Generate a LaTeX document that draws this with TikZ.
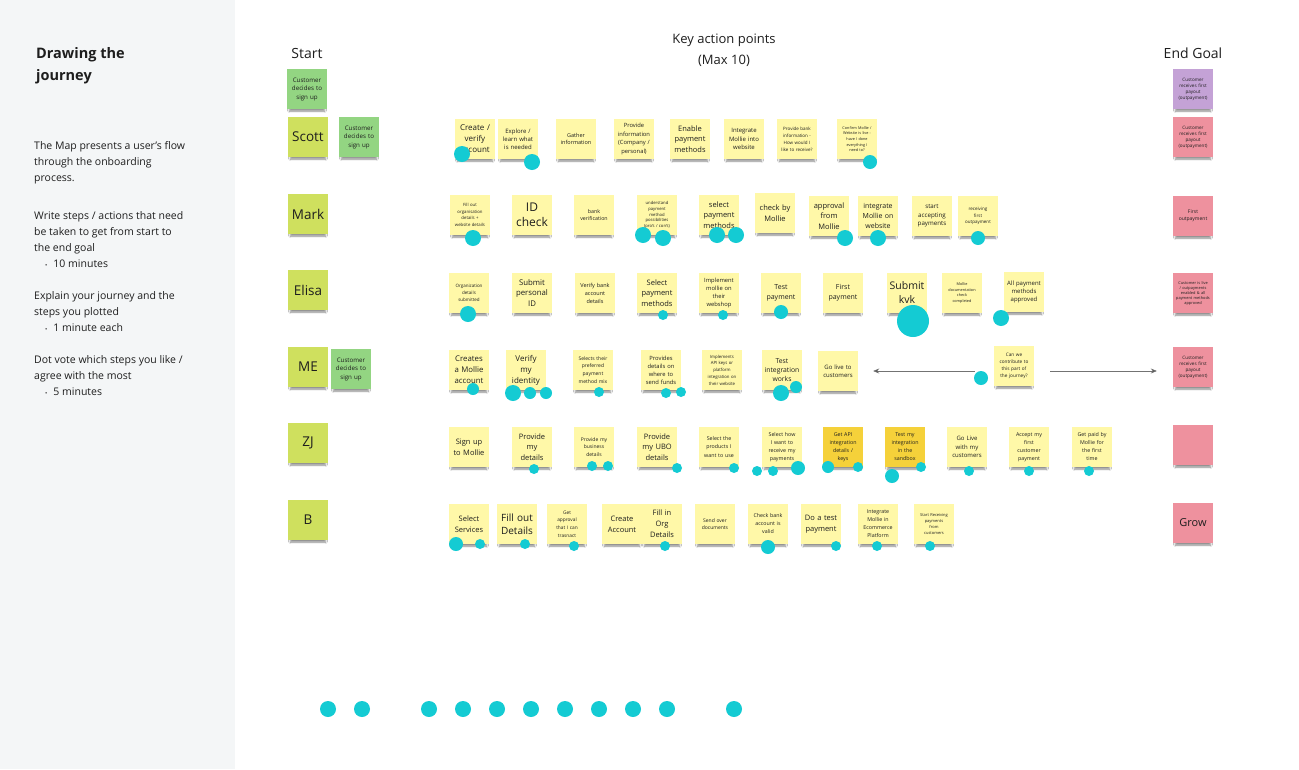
\documentclass[tikz,border=0pt]{standalone}
\usepackage{fontspec}
\setmainfont{Open Sans}
\usetikzlibrary{arrows.meta,shadows.blur}
\definecolor{panel}{HTML}{F4F6F7}
\definecolor{noteY}{HTML}{FFF8A8}
\definecolor{noteD}{HTML}{F5D13A}
\definecolor{noteN}{HTML}{CFE05E}
\definecolor{noteG}{HTML}{93D582}
\definecolor{noteP}{HTML}{EE919E}
\definecolor{noteV}{HTML}{C4A2D6}
\definecolor{dotc}{HTML}{14CBD3}
\definecolor{txt}{HTML}{1E1E1E}
\newcommand\fs[2]{\fontsize{#1}{#2}\selectfont}
\tikzset{
  note/.style={rectangle, minimum width=40pt, minimum height=40pt, inner sep=0.5pt,
    align=center, text width=39pt, fill=noteY, text=txt,
    blur shadow={shadow xshift=0pt, shadow yshift=-5pt, shadow blur radius=2pt,
      shadow opacity=45, shadow scale=0.88}},
  dark/.style={note, fill=noteD},
  namenote/.style={note, fill=noteN, font=\fs{13.5}{16}},
  greennote/.style={note, fill=noteG, font=\fs{6.2}{8.5}},
  pinknote/.style={note, fill=noteP, font=\fs{4.6}{6}},
  dot/.style={circle, fill=dotc, inner sep=0pt},
  header/.style={align=center, text=txt, font=\fs{14}{21}},
  para/.style={anchor=north west, inner sep=0pt, align=left, text=txt, font=\fs{10.5}{16}},
  arr/.style={draw=black!55, line width=0.7pt, -{Stealth[length=6pt,width=5pt,fill=black]}},
}
\newcommand\bul{\hspace*{11pt}{\fs{6}{6}\textbullet}\hspace{6pt}}
\begin{document}
\begin{tikzpicture}[x=1pt,y=-1pt]
\useasboundingbox (0,0) rectangle (1299,769);
\fill[white] (0,0) rectangle (1299,769);
\fill[panel] (0,0) rectangle (235,769);

% left panel text
\node[para, font=\fs{14.5}{22}\bfseries] (title) at (36,47) {Drawing the\\journey};
\node[para] (p1) at (34,141) {The Map presents a user’s flow\\through the onboarding\\process.};
\node[para] (p2) at (34,211) {Write steps / actions that need\\be taken to get from start to\\the end goal\\\bul 10 minutes};
\node[para] (p3) at (34,291) {Explain your journey and the\\steps you plotted\\\bul 1 minute each};
\node[para] (p4) at (34,355) {Dot vote which steps you like /\\agree with the most\\\bul 5 minutes};

% headers
\node[header] (hstart) at (307,53) {Start};
\node[header, font=\fs{13}{21}] (hkey) at (724,50) {Key action points\\(Max 10)};
\node[header] (hend) at (1193,53) {End Goal};

% start column
\node[greennote] (start0) at (307,89) {Customer\\decides to\\sign up};
\node[namenote] (scott) at (308,137) {Scott};
\node[namenote] (mark) at (308,214) {Mark};
\node[namenote] (elisa) at (308,290) {Elisa};
\node[namenote] (me) at (308,367) {ME};
\node[namenote] (zj) at (308,443) {ZJ};
\node[namenote] (b) at (308,520) {B};
\node[greennote] (cs1) at (359,137) {Customer\\decides to\\sign up};
\node[greennote] (cs2) at (351,369) {Customer\\decides to\\sign up};

% end goal column
\node[pinknote, fill=noteV] (eg0) at (1193,89) {Customer\\receives first\\payout\\(outpayment)};
\node[pinknote] (eg1) at (1193,137) {Customer\\receives first\\payout\\(outpayment)};
\node[pinknote, font=\fs{5}{6.5}] (eg2) at (1193,216) {First\\outpayment};
\node[pinknote, font=\fs{3.9}{5}] (eg3) at (1193,293) {Customer is live\\/ outpayments\\enabled \& all\\payment methods\\approved};
\node[pinknote] (eg4) at (1193,367) {Customer\\receives first\\payout\\(outpayment)};
\node[pinknote] (eg5) at (1193,445) {};
\node[pinknote, font=\fs{11}{13}] (eg6) at (1193,523) {Grow};

% Scott row
\node[note, font=\fs{8}{11}] (s1) at (475,139) {Create /\\verify\\account};
\node[note, font=\fs{6}{8.2}] (s2) at (518,139) {Explore /\\learn what\\is needed};
\node[note, font=\fs{5.5}{7.5}] (s3) at (576,139) {Gather\\information};
\node[note, font=\fs{5.8}{8.5}] (s4) at (634,139) {Provide\\information\\(Company /\\personal)};
\node[note, font=\fs{7.5}{10.5}] (s5) at (690,139) {Enable\\payment\\methods};
\node[note, font=\fs{6}{8.2}] (s6) at (744,139) {Integrate\\Mollie into\\website};
\node[note, font=\fs{4.5}{7}] (s7) at (797,139) {Provide bank\\information -\\How would I\\like to receive?};
\node[note, font=\fs{3.8}{5.6}] (s8) at (857,139) {Confirm Mollie /\\Website is live -\\have I done\\everything I\\need to?};

% Mark row
\node[note, font=\fs{4.3}{6.5}] (m1) at (470,215) {Fill out\\organisation\\details +\\website details};
\node[note, font=\fs{12}{15}] (m2) at (532,215) {ID\\check};
\node[note, font=\fs{5.3}{7.5}] (m3) at (594,215) {bank\\verification};
\node[note, font=\fs{4.2}{5.8}] (m4) at (657,215) {understand\\payment\\method\\possibilities\\(pro's / con's)};
\node[note, font=\fs{7.5}{10.5}] (m5) at (719,215) {select\\payment\\methods};
\node[note, font=\fs{7.5}{10.5}] (m6) at (775,213) {check by\\Mollie};
\node[note, font=\fs{7.5}{10.5}] (m7) at (829,216) {approval\\from\\Mollie};
\node[note, font=\fs{7}{10}] (m8) at (878,216) {integrate\\Mollie on\\website};
\node[note, font=\fs{6.2}{8.5}] (m9) at (932,216) {start\\accepting\\payments};
\node[note, font=\fs{4.5}{6.2}] (m10) at (978,216) {receiving\\first\\outpayment};

% Elisa row
\node[note, font=\fs{4.5}{7}] (e1) at (469,293) {Organization\\details\\submitted};
\node[note, font=\fs{7.8}{10.5}] (e2) at (532,293) {Submit\\personal\\ID};
\node[note, font=\fs{5.5}{8}] (e3) at (595,293) {Verify bank\\account\\details};
\node[note, font=\fs{7.5}{10.5}] (e4) at (657,293) {Select\\payment\\methods};
\node[note, font=\fs{5.8}{8.3}] (e5) at (719,293) {Implement\\mollie on\\their\\webshop};
\node[note, font=\fs{7}{10}] (e6) at (781,293) {Test\\payment};
\node[note, font=\fs{7}{10}] (e7) at (843,293) {First\\payment};
\node[note, font=\fs{10.5}{14}] (e8) at (907,293) {Submit\\kvk};
\node[note, font=\fs{3.8}{5.8}] (e9) at (962,293) {Mollie\\documentation\\check\\completed};
\node[note, font=\fs{6}{8.3}] (e10) at (1024,292) {All payment\\methods\\approved};

% ME row
\node[note, font=\fs{7.8}{11}] (me1) at (469,370) {Creates\\a Mollie\\account};
\node[note, font=\fs{8}{11}] (me2) at (526,370) {Verify\\my\\identity};
\node[note, font=\fs{5}{7.8}] (me3) at (593,370) {Selects their\\preferred\\payment\\method mix};
\node[note, font=\fs{5.8}{8}] (me4) at (661,370) {Provides\\details on\\where to\\send funds};
\node[note, font=\fs{4.3}{6.8}] (me5) at (722,370) {Implements\\API keys or\\platform\\integration on\\their website};
\node[note, font=\fs{6.8}{9}] (me6) at (782,370) {Test\\integration\\works};
\node[note, font=\fs{6}{8.3}] (me7) at (838,371) {Go live to\\customers};
\node[note, font=\fs{4.7}{7}] (me8) at (1014,366) {Can we\\contribute to\\this part of\\the journey?};
\draw[arr, shorten <=19pt, shorten >=15pt] (me8.west |- me7.east) -- (me7.east);
\draw[arr, shorten <=16pt, shorten >=16pt] (me8.east |- me7.east) -- (eg4.west |- me7.east);

% ZJ row
\node[note, font=\fs{7.5}{11}] (z1) at (469,447) {Sign up\\to Mollie};
\node[note, font=\fs{7.5}{10.8}] (z2) at (532,447) {Provide\\my\\details};
\node[note, font=\fs{5}{7.5}] (z3) at (594,447) {Provide my\\business\\details};
\node[note, font=\fs{7.5}{10.8}] (z4) at (657,447) {Provide\\my UBO\\details};
\node[note, font=\fs{5.3}{8.2}] (z5) at (719,447) {Select the\\products I\\want to use};
\node[note, font=\fs{5.3}{8}] (z6) at (782,447) {Select how\\I want to\\receive my\\payments};
\node[dark, font=\fs{5.3}{8}] (z7) at (843,447) {Get API\\integration\\details /\\keys};
\node[dark, font=\fs{5.3}{8}] (z8) at (905,447) {Test my\\integration\\in the\\sandbox};
\node[note, font=\fs{6}{8.3}] (z9) at (967,447) {Go Live\\with my\\customers};
\node[note, font=\fs{5.3}{8}] (z10) at (1029,447) {Accept my\\first\\customer\\payment};
\node[note, font=\fs{5.3}{8}] (z11) at (1092,447) {Get paid by\\Mollie for\\the first\\time};

% B row
\node[note, font=\fs{7.5}{11}] (b1) at (469,524) {Select\\Services};
\node[note, font=\fs{10}{13}] (b2) at (517,524) {Fill out\\Details};
\node[note, font=\fs{4.8}{7.7}] (b3) at (567,524) {Get\\approval\\that I can\\trasnact};
\node[note, font=\fs{7.5}{11}] (b4) at (622,524) {Create\\Account};
\node[note, font=\fs{7.5}{11}] (b5) at (662,524) {Fill in\\Org\\Details};
\node[note, font=\fs{5}{7.5}] (b6) at (715,524) {Send over\\documents};
\node[note, font=\fs{5.3}{8}] (b7) at (768,524) {Check bank\\account is\\valid};
\node[note, font=\fs{7.5}{11}] (b8) at (821,524) {Do a test\\payment};
\node[note, font=\fs{5.3}{8}] (b9) at (878,524) {Integrate\\Mollie in\\Ecommerce\\Platform};
\node[note, font=\fs{4}{5.8}] (b10) at (934,524) {Start Receiving\\payments\\from\\customers};

% dots
\foreach \x/\y/\r [count=\i] in {
  462/154/8, 532/162/8, 870/162/7,
  473/238/8, 643/235/8, 663/238/8, 717/235/8, 736/235/8, 845/238/8, 878/238/8, 978/238/7,
  468/314/8, 663/315/5, 723/315/5, 781/312/7, 913/321/16, 1001/318/8,
  473/389/6, 513/393/8, 530/393/6, 546/393/6, 599/392/5, 666/393/5, 681/392/5, 781/393/8, 796/387/6, 981/378/7,
  534/469/5, 592/466/5, 608/466/5, 677/468/5, 734/468/5, 757/471/5, 773/471/5, 798/468/7, 828/467/6, 858/467/5, 892/476/7, 921/467/5, 969/471/5, 1029/471/5, 1089/471/5,
  456/544/7, 480/544/5, 525/544/5, 574/546/5, 665/546/5, 768/547/7, 836/546/5, 877/546/5, 930/546/5,
  328/709/8, 362/709/8, 429/709/8, 463/709/8, 497/709/8, 531/709/8, 565/709/8, 599/709/8, 633/709/8, 667/709/8, 734/709/8}
  \node[dot, minimum size={2*\r pt}] (dot\i) at (\x,\y) {};
\end{tikzpicture}
\end{document}
